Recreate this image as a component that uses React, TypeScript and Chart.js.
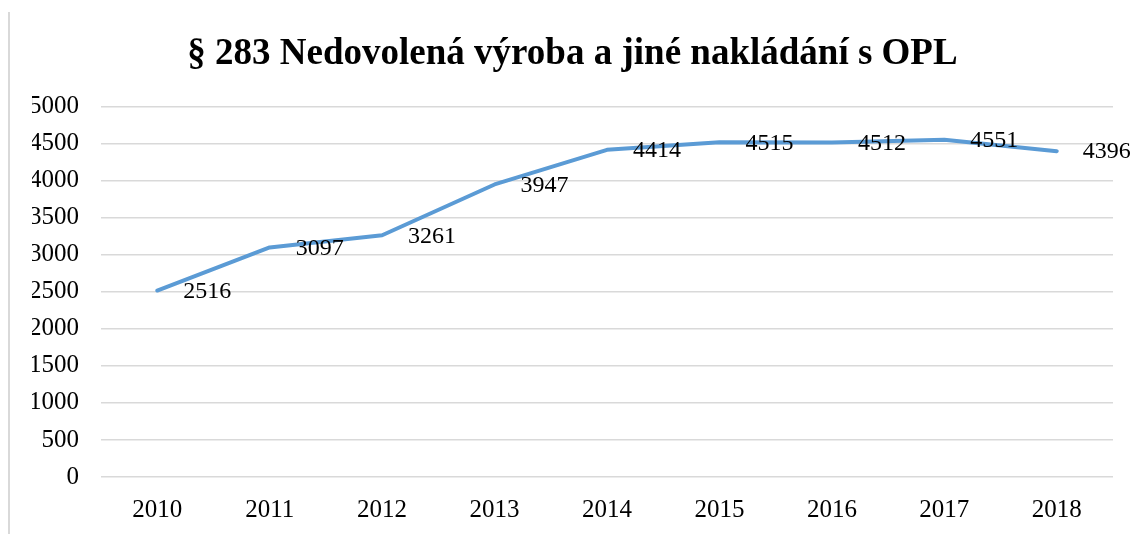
import React, { useEffect, useRef } from "react";
import { Chart, registerables } from "chart.js";

Chart.register(...registerables);

const years = ["2010", "2011", "2012", "2013", "2014", "2015", "2016", "2017", "2018"];
const counts = [2516, 3097, 3261, 3947, 4414, 4515, 4512, 4551, 4396];
const yMin = 0;
const yMax = 5000;
const yStep = 500;
const titleText = "§ 283 Nedovolená výroba a jiné nakládání s OPL";

const FONT = "'Liberation Serif', 'Times New Roman', serif";

const frameLine = {
  id: "frameLine",
  beforeDraw(chart: any) {
    const ctx = chart.ctx;
    ctx.save();
    ctx.strokeStyle = "#d9d9d9";
    ctx.lineWidth = 2;
    ctx.beginPath();
    ctx.moveTo(9, 12);
    ctx.lineTo(9, chart.height);
    ctx.stroke();
    ctx.restore();
  },
};

const valueLabels = {
  id: "valueLabels",
  afterDatasetsDraw(chart: any) {
    const ctx = chart.ctx;
    const meta = chart.getDatasetMeta(0);
    const data = chart.data.datasets[0].data as number[];
    ctx.save();
    ctx.font = `24px ${FONT}`;
    ctx.fillStyle = "#000000";
    ctx.textAlign = "left";
    ctx.textBaseline = "middle";
    meta.data.forEach((pt: any, i: number) => {
      ctx.fillText(String(data[i]), pt.x + 26, pt.y + 1);
    });
    ctx.restore();
  },
};

export default function App() {
  const ref = useRef<HTMLCanvasElement | null>(null);

  useEffect(() => {
    if (!ref.current) return;
    const chart = new Chart(ref.current, {
      type: "line",
      data: {
        labels: years,
        datasets: [
          {
            data: counts,
            borderColor: "#5B9BD5",
            borderWidth: 4,
            pointRadius: 0,
            pointHoverRadius: 0,
            tension: 0,
            fill: false,
            borderJoinStyle: "round",
            borderCapStyle: "round",
          },
        ],
      },
      options: {
        animation: false,
        responsive: false,
        devicePixelRatio: 1,
        layout: { padding: { left: 32, right: 20, top: 0, bottom: 11 } },
        plugins: {
          legend: { display: false },
          tooltip: { enabled: false },
          title: {
            display: true,
            text: titleText,
            color: "#000000",
            font: { family: FONT, size: 37, weight: "bold" },
            padding: { top: 32, bottom: 30 },
          },
        },
        scales: {
          x: {
            offset: true,
            grid: { display: false, drawTicks: false },
            border: { display: false },
            ticks: {
              color: "#000000",
              font: { family: FONT, size: 25 },
              padding: 18,
              maxRotation: 0,
              autoSkip: false,
            },
            afterFit(scale: any) {
              scale.height = 46;
            },
          },
          y: {
            min: yMin,
            max: yMax,
            border: { display: false },
            grid: { color: "#d9d9d9", lineWidth: 1.5, drawTicks: false },
            ticks: {
              stepSize: yStep,
              color: "#000000",
              font: { family: FONT, size: 25 },
              padding: 22,
              callback: (v: any) => String(v),
            },
            afterFit(scale: any) {
              scale.width = 69;
            },
          },
        },
      },
      plugins: [frameLine, valueLabels],
    });
    return () => chart.destroy();
  }, []);

  return (
    <div style={{ position: "absolute", left: 0, top: 0, width: 1133, height: 534, background: "#ffffff" }}>
      <canvas ref={ref} width={1133} height={534} style={{ display: "block", width: "1133px", height: "534px" }} />
    </div>
  );
}
